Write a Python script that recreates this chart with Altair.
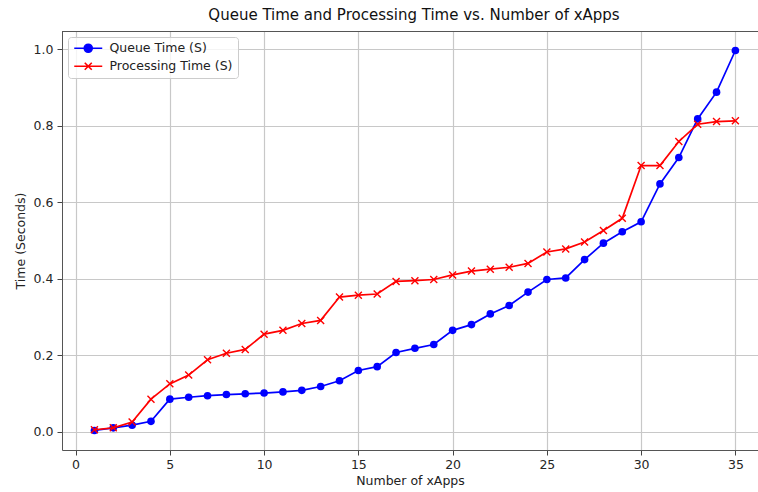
import altair as alt
import pandas as pd

xapps = list(range(1, 36))
queue_time = [0.003, 0.010, 0.017, 0.027, 0.085, 0.090, 0.094, 0.097, 0.099, 0.101,
              0.104, 0.108, 0.118, 0.133, 0.160, 0.170, 0.207, 0.218, 0.228, 0.265,
              0.280, 0.308, 0.330, 0.365, 0.398, 0.402, 0.450, 0.493, 0.523, 0.549,
              0.648, 0.717, 0.818, 0.888, 0.997]
processing_time = [0.005, 0.010, 0.025, 0.085, 0.125, 0.148, 0.188, 0.205, 0.215, 0.255,
                   0.265, 0.283, 0.291, 0.352, 0.357, 0.360, 0.393, 0.395, 0.398, 0.410,
                   0.420, 0.425, 0.430, 0.440, 0.470, 0.478, 0.496, 0.526, 0.558, 0.696,
                   0.696, 0.759, 0.804, 0.811, 0.813]
series_names = ["Queue Time (S)", "Processing Time (S)"]
series_colors = ["#0000ff", "#ff0000"]

rows = []
for s, vals in zip(series_names, [queue_time, processing_time]):
    for x, v in zip(xapps, vals):
        rows.append({"xapps": x, "time": v, "series": s})
df = pd.DataFrame(rows)

FONT = "DejaVu Sans"
FS = 12.5
W, H = 696, 419

x_enc = alt.X("xapps:Q", scale=alt.Scale(domain=[-0.72, 36.2], nice=False, zero=False),
              axis=alt.Axis(values=[0, 5, 10, 15, 20, 25, 30, 35], title="Number of xApps",
                            format="d"))
y_enc = alt.Y("time:Q", scale=alt.Scale(domain=[-0.048, 1.048], nice=False, zero=False),
              axis=alt.Axis(values=[0, 0.2, 0.4, 0.6, 0.8, 1.0], format=".1f",
                            title="Time (Seconds)"))

base = alt.Chart(df)
q = base.transform_filter(alt.datum.series == series_names[0])
p = base.transform_filter(alt.datum.series == series_names[1])

layers = [
    q.mark_line(strokeWidth=1.7, color=series_colors[0]).encode(x=x_enc, y=y_enc),
    q.mark_point(shape="circle", filled=True, size=58, opacity=1, color=series_colors[0])
     .encode(x=x_enc, y=y_enc),
    p.mark_line(strokeWidth=1.7, color=series_colors[1]).encode(x=x_enc, y=y_enc),
    p.mark_point(shape="M-1,-1L1,1M-1,1L1,-1", filled=False, size=49, opacity=1,
                 strokeWidth=1.4, color=series_colors[1])
     .encode(x=x_enc, y=y_enc),
]

# legend-only layer (marks invisible, legend symbols visible)
legend_paths = [
    "M-1.25,0L5.75,0M3.25,0A1,1,0,1,1,1.25,0A1,1,0,1,1,3.25,0Z",
    "M-1.25,0L5.75,0M1.375,-0.875L3.125,0.875M1.375,0.875L3.125,-0.875",
]
leg = alt.Legend(title=None, orient="none", legendX=6, legendY=6,
                 symbolSize=64, symbolStrokeWidth=1.6, labelOffset=24,
                 labelFont=FONT, labelFontSize=FS, labelColor="#222222",
                 padding=5, rowPadding=3, strokeColor="#cccccc",
                 fillColor="rgba(255,255,255,0.8)", cornerRadius=3,
                 symbolOpacity=1)
layers.append(base.mark_point(filled=True, opacity=0, strokeWidth=1.6)
              .encode(x=x_enc, y=y_enc,
                      fill=alt.Fill("series:N", scale=alt.Scale(domain=series_names, range=series_colors), legend=leg),
                      stroke=alt.Stroke("series:N", scale=alt.Scale(domain=series_names, range=series_colors), legend=leg),
                      shape=alt.Shape("series:N", scale=alt.Scale(domain=series_names, range=legend_paths), legend=leg)))

# top spine
layers.append(base.mark_rule(color="#555555", strokeWidth=1).encode(y=alt.value(0.5)))

chart = alt.layer(*layers).properties(
    width=W, height=H,
    title=alt.TitleParams("Queue Time and Processing Time vs. Number of xApps",
                          font=FONT, fontSize=15, fontWeight="normal", color="#111111",
                          offset=8, anchor="middle", dx=4),
    autosize=alt.AutoSizeParams(type="none"),
    padding={"left": 62, "top": 31, "right": 0, "bottom": 42},
).configure_view(stroke=None).configure_axis(
    labelFont=FONT, titleFont=FONT, labelFontSize=FS, titleFontSize=FS,
    titleFontWeight="normal", labelColor="#262626", titleColor="#222222",
    domainColor="#555555", domainWidth=1, tickColor="#444444", tickSize=5, tickWidth=1,
    gridColor="#c8c8c8", gridWidth=1.2, grid=True,
).configure_axisX(labelPadding=3, titlePadding=4).configure_axisY(
    labelPadding=4, titlePadding=6
)

chart.save("out.html", embed_options={"renderer": "svg", "actions": False})
